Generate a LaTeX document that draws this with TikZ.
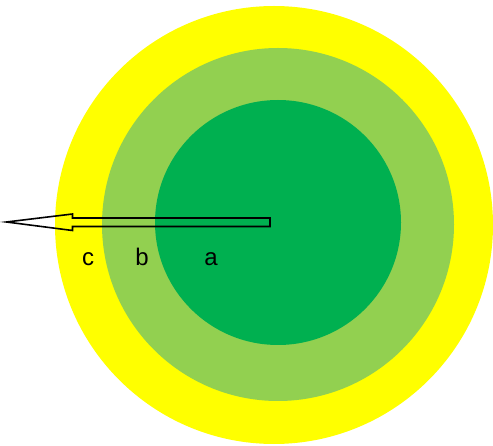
\documentclass[tikz,border=0pt]{standalone}
\usepackage{fontspec}
\setmainfont{Liberation Sans}
\definecolor{ylw}{HTML}{FFFF00}
\definecolor{lgreen}{HTML}{92D050}
\definecolor{dgreen}{HTML}{00B050}
\begin{document}
\begin{tikzpicture}[x=1pt,y=-1pt,
  lbl/.style={font=\fontsize{24}{28}\selectfont,inner sep=0pt}]
\useasboundingbox (0,0) rectangle (493,446);
\fill[ylw] (274,225) circle [radius=219];
\fill[lgreen] (278,224.5) ellipse [x radius=176, y radius=176.5];
\fill[dgreen] (278,222.5) ellipse [x radius=123, y radius=122.5];
\coordinate (tail) at (270,222);
\coordinate (tip) at (6.5,222);
\draw[black,line width=1.6pt,line join=miter]
  (270,218) -- (72.5,218) -- (72.5,214) -- (tip) -- (72.5,230.5) -- (72.5,226.5) -- (270,226.5) -- cycle;
\node[lbl] (c) at (88,259) {c};
\node[lbl] (b) at (142,257) {b};
\node[lbl] (a) at (211,259) {a};
\end{tikzpicture}
\end{document}
